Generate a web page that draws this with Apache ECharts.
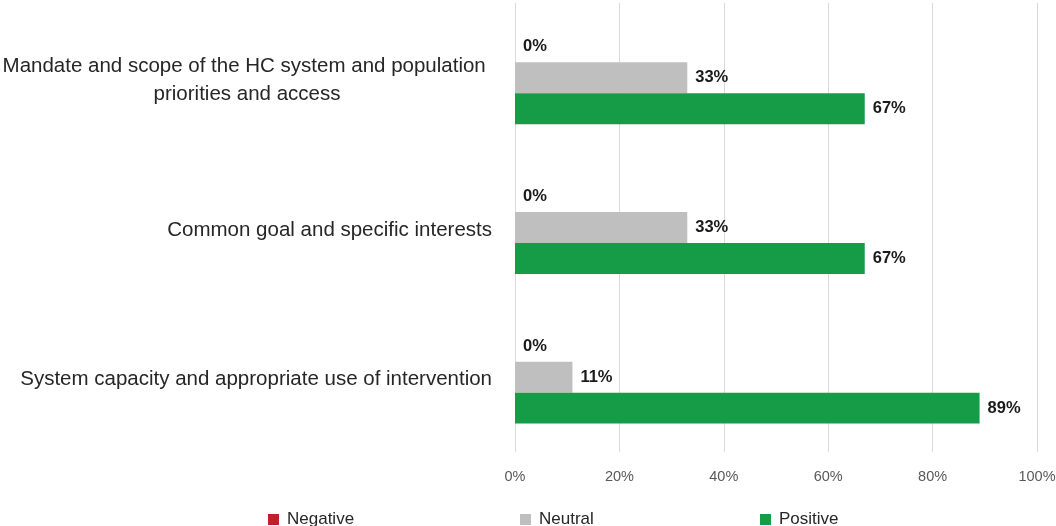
<!DOCTYPE html>
<html>
<head>
<meta charset="utf-8">
<script src="https://cdn.jsdelivr.net/npm/echarts@6/dist/echarts.min.js"></script>
<style>html,body{margin:0;padding:0;background:#fff}#c{width:1056px;height:526px}</style>
</head>
<body>
<div id="c"></div>
<script>
const categories = [
  "Mandate and scope of the HC system and population priorities and access",
  "Common goal and specific interests",
  "System capacity and appropriate use of intervention"
];
const negative = [0, 0, 0];
const neutral = [33, 33, 11];
const positive = [67, 67, 89];
const xTicks = [0, 20, 40, 60, 80, 100];
const seriesNames = ['Negative', 'Neutral', 'Positive'];
const seriesColors = ['#C0202A', '#BFBFBF', '#169B47'];

const chart = echarts.init(document.getElementById('c'), null, {renderer: 'canvas'});
const FONT = '"Liberation Sans", Arial, sans-serif';
const labelCfg = {
  show: true, position: 'right', distance: 8, formatter: '{c}%',
  fontFamily: FONT, fontSize: 16.5, fontWeight: 'bold', color: '#1a1a1a'
};
const legendLefts = [268, 520, 760];
chart.setOption({
  animation: false,
  textStyle: {fontFamily: FONT},
  grid: {left: 515, right: 19, top: 3, bottom: 74, containLabel: false, outerBoundsMode: 'none'},
  legend: seriesNames.map((n, i) => ({
    left: legendLefts[i], top: 511, padding: 0, itemWidth: 11, itemHeight: 11, itemGap: 6,
    icon: 'rect',
    textStyle: {fontFamily: FONT, fontSize: 17, color: '#262626', padding: [0, 0, 0, 3]},
    data: [n]
  })),
  xAxis: {
    type: 'value', min: xTicks[0], max: xTicks[xTicks.length - 1], interval: 20,
    axisLine: {show: false}, axisTick: {show: false},
    splitLine: {show: true, lineStyle: {color: '#d9d9d9', width: 1}},
    axisLabel: {formatter: '{value}%', fontSize: 14.5, color: '#595959', margin: 17, fontFamily: FONT}
  },
  yAxis: {
    type: 'category', data: categories, inverse: true,
    axisLine: {show: false}, axisTick: {show: false},
    axisLabel: {
      fontSize: 20.5, color: '#262626', margin: 23, fontFamily: FONT,
      width: 490, overflow: 'break', align: 'right', lineHeight: 28,
      padding: [5, 0, 0, 0],
      formatter: v => v.length > 60 ? '{c|' + v + '}' : v,
      rich: {c: {align: 'center', fontSize: 20.5, lineHeight: 28, color: '#262626', fontFamily: FONT}}
    }
  },
  series: seriesNames.map((n, i) => ({
    name: n, type: 'bar', data: [negative, neutral, positive][i],
    itemStyle: {color: seriesColors[i]},
    barGap: '0%', barCategoryGap: '38%', label: labelCfg
  }))
});
</script>
</body>
</html>
